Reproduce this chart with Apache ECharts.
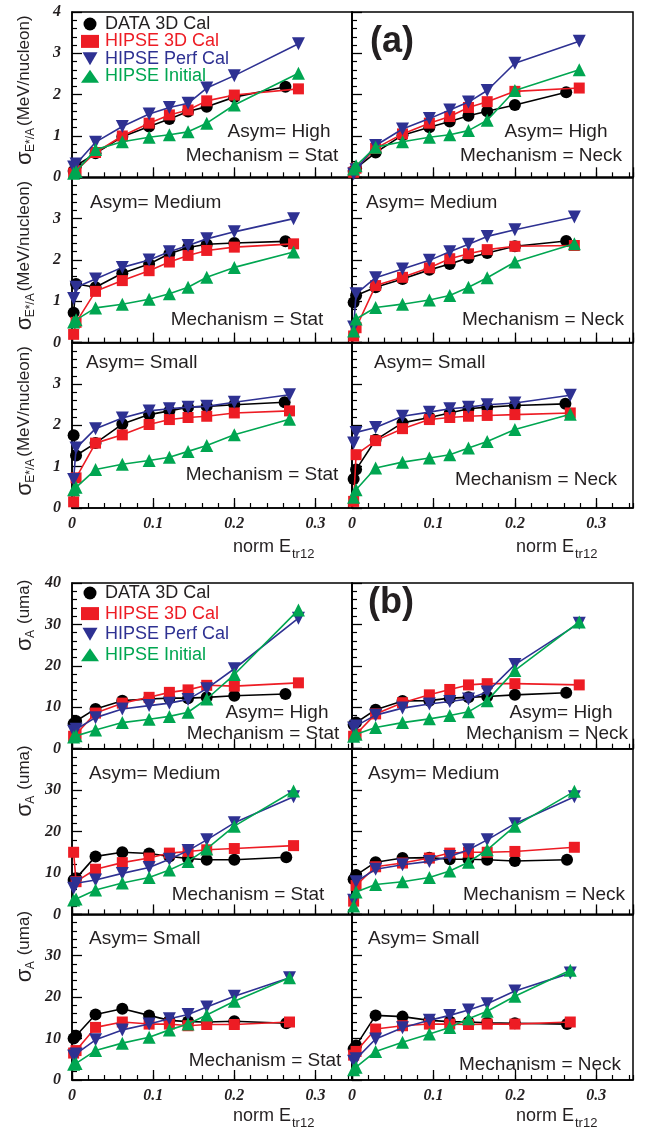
<!DOCTYPE html>
<html><head><meta charset="utf-8">
<script src="https://cdn.jsdelivr.net/npm/echarts@6/dist/echarts.min.js"></script>
<style>html,body{margin:0;padding:0;background:#fff}#c{width:651px;height:1134px}</style>
</head><body><div id="c"></div><script>
// ---------------- DATA ----------------
const SERIES_NAMES = ['DATA 3D Cal', 'HIPSE 3D Cal', 'HIPSE Perf Cal', 'HIPSE Initial'];
const ASYM_LABELS = ['High', 'Medium', 'Small', 'High', 'Medium', 'Small'];
const MECH_LABELS = ['Stat', 'Neck'];
const X_NEAR = [0.002, 0.005];
const X_MID = [0.029, 0.062, 0.095, 0.12, 0.143, 0.166, 0.2];
const X_LAST_DATA = [0.263, 0.263, 0.262, 0.263, 0.264, 0.264];
const X_LAST_SIM = [0.279, 0.273, 0.268, 0.279, 0.273, 0.268];
const X_TICK_LABELS = ['0', '0.1', '0.2', '0.3'];

// (a) sigma E*/A  [near0, near0, 7 mid points, last]
const A_HIGH_STAT_DATA = [0.15, 0.28, 0.58, 0.98, 1.23, 1.41, 1.59, 1.71, 1.94, 2.19];
const A_HIGH_STAT_3D   = [0.10, 0.16, 0.60, 1.00, 1.31, 1.51, 1.63, 1.85, 1.99, 2.14];
const A_HIGH_STAT_PERF = [0.25, 0.32, 0.85, 1.23, 1.53, 1.69, 1.79, 2.16, 2.46, 3.23];
const A_HIGH_STAT_INIT = [0.10, 0.14, 0.67, 0.86, 0.97, 1.03, 1.10, 1.31, 1.75, 2.52];

const A_HIGH_NECK_DATA = [0.15, 0.22, 0.60, 1.02, 1.21, 1.35, 1.49, 1.60, 1.75, 2.06];
const A_HIGH_NECK_3D   = [0.12, 0.22, 0.70, 1.05, 1.31, 1.47, 1.69, 1.83, 2.08, 2.16];
const A_HIGH_NECK_PERF = [0.08, 0.18, 0.77, 1.17, 1.42, 1.63, 1.82, 2.10, 2.76, 3.29];
const A_HIGH_NECK_INIT = [0.20, 0.28, 0.73, 0.86, 0.97, 1.03, 1.13, 1.38, 2.10, 2.60];

const A_MED_STAT_DATA = [0.72, 1.42, 1.34, 1.68, 1.90, 2.15, 2.30, 2.38, 2.41, 2.45];
const A_MED_STAT_3D   = [0.20, 0.49, 1.24, 1.50, 1.74, 1.95, 2.11, 2.23, 2.31, 2.39];
const A_MED_STAT_PERF = [1.07, 1.34, 1.54, 1.82, 2.00, 2.20, 2.35, 2.51, 2.68, 3.00];
const A_MED_STAT_INIT = [0.50, 0.55, 0.84, 0.93, 1.05, 1.18, 1.34, 1.58, 1.82, 2.19];

const A_MED_NECK_DATA = [0.97, 1.14, 1.34, 1.54, 1.76, 1.90, 2.05, 2.17, 2.33, 2.46];
const A_MED_NECK_3D   = [0.16, 0.36, 1.38, 1.58, 1.81, 2.03, 2.15, 2.25, 2.33, 2.35];
const A_MED_NECK_PERF = [0.38, 1.18, 1.57, 1.78, 1.99, 2.20, 2.38, 2.57, 2.73, 3.04];
const A_MED_NECK_INIT = [0.28, 0.57, 0.85, 0.93, 1.03, 1.14, 1.34, 1.57, 1.95, 2.39];

const A_SMALL_STAT_DATA = [1.76, 1.27, 1.57, 2.03, 2.26, 2.35, 2.44, 2.46, 2.50, 2.56];
const A_SMALL_STAT_3D   = [0.15, 0.73, 1.57, 1.77, 2.02, 2.14, 2.19, 2.22, 2.30, 2.35];
const A_SMALL_STAT_PERF = [0.69, 1.45, 1.92, 2.18, 2.35, 2.40, 2.44, 2.46, 2.56, 2.74];
const A_SMALL_STAT_INIT = [0.44, 0.50, 0.93, 1.06, 1.15, 1.23, 1.37, 1.51, 1.77, 2.15];

const A_SMALL_NECK_DATA = [0.70, 0.93, 1.65, 2.06, 2.19, 2.30, 2.40, 2.44, 2.48, 2.52];
const A_SMALL_NECK_3D   = [0.16, 1.29, 1.63, 1.92, 2.14, 2.19, 2.22, 2.24, 2.26, 2.30];
const A_SMALL_NECK_PERF = [1.57, 1.83, 1.95, 2.22, 2.32, 2.40, 2.44, 2.50, 2.54, 2.73];
const A_SMALL_NECK_INIT = [0.26, 0.44, 0.97, 1.11, 1.21, 1.29, 1.45, 1.61, 1.90, 2.27];

// (b) sigma A (uma)
const B_HIGH_STAT_DATA = [6.0, 6.7, 9.6, 11.6, 12.0, 12.2, 12.2, 12.4, 12.8, 13.2];
const B_HIGH_STAT_3D   = [3.0, 3.5, 8.6, 11.0, 12.4, 13.6, 14.2, 15.3, 15.1, 15.9];
const B_HIGH_STAT_PERF = [4.2, 4.7, 7.5, 9.6, 10.4, 11.0, 11.9, 14.5, 19.3, 31.5];
const B_HIGH_STAT_INIT = [2.8, 3.1, 4.5, 6.3, 7.1, 7.8, 8.8, 12.0, 17.9, 33.5];

const B_HIGH_NECK_DATA = [5.8, 6.3, 9.4, 11.5, 11.6, 12.2, 12.4, 12.6, 13.0, 13.5];
const B_HIGH_NECK_3D   = [3.0, 3.5, 8.4, 11.1, 13.0, 14.3, 15.4, 15.7, 15.7, 15.4];
const B_HIGH_NECK_PERF = [5.0, 5.5, 8.1, 9.8, 10.8, 11.4, 12.0, 13.7, 20.3, 30.3];
const B_HIGH_NECK_INIT = [3.0, 3.5, 5.1, 6.3, 7.2, 8.0, 8.9, 11.6, 18.9, 30.6];

const B_MED_STAT_DATA = [8.3, 8.7, 14.0, 15.0, 14.7, 14.0, 13.5, 13.2, 13.2, 13.8];
const B_MED_STAT_3D   = [15.0, 7.9, 10.9, 12.5, 13.6, 14.8, 15.2, 15.6, 15.9, 16.6];
const B_MED_STAT_PERF = [6.3, 7.5, 8.3, 9.9, 11.3, 13.3, 15.4, 18.0, 22.1, 28.4];
const B_MED_STAT_INIT = [3.5, 3.7, 5.9, 7.6, 8.9, 10.7, 12.8, 15.8, 21.3, 29.8];

const B_MED_NECK_DATA = [8.5, 9.5, 12.6, 13.6, 13.7, 13.3, 13.3, 13.2, 12.9, 13.2];
const B_MED_NECK_3D   = [3.2, 7.0, 11.5, 12.4, 13.6, 14.8, 15.0, 15.0, 15.2, 16.2];
const B_MED_NECK_PERF = [3.4, 7.9, 10.9, 12.0, 12.8, 14.0, 15.6, 18.0, 21.9, 28.4];
const B_MED_NECK_INIT = [2.0, 5.4, 7.2, 7.9, 8.9, 10.5, 12.6, 15.6, 21.3, 29.7];

const B_SMALL_STAT_DATA = [10.0, 10.7, 15.8, 17.2, 15.6, 14.4, 14.1, 14.0, 14.2, 13.7];
const B_SMALL_STAT_3D   = [6.5, 7.1, 12.7, 14.0, 13.5, 13.5, 13.1, 13.4, 13.4, 14.0];
const B_SMALL_STAT_PERF = [5.8, 6.3, 9.7, 12.1, 13.5, 14.8, 15.8, 17.6, 20.2, 24.7];
const B_SMALL_STAT_INIT = [3.8, 4.0, 7.1, 8.9, 10.3, 12.1, 13.5, 15.7, 19.0, 24.7];

const B_SMALL_NECK_DATA = [7.5, 8.3, 15.6, 15.3, 14.4, 14.1, 14.0, 13.8, 13.7, 13.5];
const B_SMALL_NECK_3D   = [6.0, 6.9, 12.3, 13.1, 13.5, 13.5, 13.4, 13.5, 13.5, 14.0];
const B_SMALL_NECK_PERF = [4.5, 5.1, 9.9, 12.6, 14.4, 15.6, 16.9, 18.4, 21.5, 25.8];
const B_SMALL_NECK_INIT = [2.5, 3.1, 6.9, 9.1, 11.1, 12.7, 14.8, 16.6, 20.2, 26.5];

const PANELS = [
  [A_HIGH_STAT_DATA, A_HIGH_STAT_3D, A_HIGH_STAT_PERF, A_HIGH_STAT_INIT],
  [A_HIGH_NECK_DATA, A_HIGH_NECK_3D, A_HIGH_NECK_PERF, A_HIGH_NECK_INIT],
  [A_MED_STAT_DATA, A_MED_STAT_3D, A_MED_STAT_PERF, A_MED_STAT_INIT],
  [A_MED_NECK_DATA, A_MED_NECK_3D, A_MED_NECK_PERF, A_MED_NECK_INIT],
  [A_SMALL_STAT_DATA, A_SMALL_STAT_3D, A_SMALL_STAT_PERF, A_SMALL_STAT_INIT],
  [A_SMALL_NECK_DATA, A_SMALL_NECK_3D, A_SMALL_NECK_PERF, A_SMALL_NECK_INIT],
  [B_HIGH_STAT_DATA, B_HIGH_STAT_3D, B_HIGH_STAT_PERF, B_HIGH_STAT_INIT],
  [B_HIGH_NECK_DATA, B_HIGH_NECK_3D, B_HIGH_NECK_PERF, B_HIGH_NECK_INIT],
  [B_MED_STAT_DATA, B_MED_STAT_3D, B_MED_STAT_PERF, B_MED_STAT_INIT],
  [B_MED_NECK_DATA, B_MED_NECK_3D, B_MED_NECK_PERF, B_MED_NECK_INIT],
  [B_SMALL_STAT_DATA, B_SMALL_STAT_3D, B_SMALL_STAT_PERF, B_SMALL_STAT_INIT],
  [B_SMALL_NECK_DATA, B_SMALL_NECK_3D, B_SMALL_NECK_PERF, B_SMALL_NECK_INIT]
];

// ---------------- LAYOUT / STYLE ----------------
const COL_LEFT = [72, 352], COL_W = [280, 281];
const ROW_TOP = [12, 177.3, 342.7, 583, 748.7, 914.3];
const ROW_H = [165.3, 165.3, 165.3, 165.7, 165.7, 165.7];
const COLORS = ['#000000', '#ed1c24', '#2e3192', '#00a651'];
const SYMBOLS = ['circle', 'rect', 'triangle', 'triangle'];
const SYM_ROT = [0, 0, 180, 0];
const SYM_SIZE = [12, 11, 13, 13];
const TXT = '#231f20';
const SANS = '"Liberation Sans", Arial, Helvetica, sans-serif';
const SERIF = '"Liberation Serif", "Times New Roman", serif';
const ASYM_POS = [
  [[279, 132, 'center'], [556, 132, 'center']],
  [[90, 203, 'left'], [366, 203, 'left']],
  [[86, 363, 'left'], [374, 363, 'left']],
  [[277, 713, 'center'], [561, 713, 'center']],
  [[89, 774, 'left'], [368, 774, 'left']],
  [[89, 939, 'left'], [368, 939, 'left']]
];
const MECH_POS = [
  [[262, 156], [541, 156]],
  [[247, 320], [543, 320]],
  [[262, 475], [536, 480]],
  [[263, 734], [547, 734]],
  [[248, 895], [544, 895]],
  [[265, 1061], [540, 1065]]
];

const grids = [], xAxes = [], yAxes = [], series = [], graphics = [];
for (let r = 0; r < 6; r++) {
  const isA = r < 3, isTop = (r === 0 || r === 3), isBottom = (r === 2 || r === 5);
  for (let c = 0; c < 2; c++) {
    const idx = r * 2 + c;
    grids.push({left: COL_LEFT[c], top: ROW_TOP[r], width: COL_W[c], height: ROW_H[r],
      show: true, borderColor: '#000', borderWidth: 1.5, backgroundColor: 'transparent'});
    xAxes.push({type: 'value', gridIndex: idx, position: 'bottom', min: 0, max: 0.345, interval: 0.1,
      axisLine: {show: true, onZero: false, lineStyle: {color: '#000', width: 1.5}},
      axisTick: {show: true, inside: true, length: 10, lineStyle: {color: '#000', width: 1.3}},
      axisLabel: {show: isBottom, showMaxLabel: false, margin: 8,
        formatter: v => X_TICK_LABELS[Math.round(v * 10)] || '',
        fontFamily: SERIF, fontStyle: 'italic', fontWeight: 'bold', fontSize: 16, color: TXT},
      splitLine: {show: false}});
    xAxes.push({type: 'value', gridIndex: idx, position: 'bottom', offset: 0, min: 0, max: 0.345, interval: 0.02,
      axisLine: {show: false}, axisLabel: {show: false}, splitLine: {show: false},
      axisTick: {show: true, inside: true, length: 5, lineStyle: {color: '#000', width: 1.2}}});
    yAxes.push({type: 'value', gridIndex: idx, min: 0, max: isA ? 4 : 40, interval: isA ? 1 : 10,
      axisLine: {show: true, onZero: false, lineStyle: {color: '#000', width: 1.5}},
      axisTick: {show: true, inside: true, length: 10, lineStyle: {color: '#000', width: 1.3}},
      minorTick: {show: true, splitNumber: 5, length: 5, lineStyle: {color: '#000', width: 1.2}},
      axisLabel: {show: c === 0, showMaxLabel: isTop, showMinLabel: true, margin: 11,
        fontFamily: SERIF, fontStyle: 'italic', fontWeight: 'bold', fontSize: 16, color: TXT},
      splitLine: {show: false}, minorSplitLine: {show: false}});
    const xs = X_NEAR.concat(X_MID);
    PANELS[idx].forEach((vals, s) => {
      const xl = s === 0 ? X_LAST_DATA[r] : X_LAST_SIM[r];
      const allX = xs.concat([xl]);
      series.push({type: 'line', name: SERIES_NAMES[s], xAxisIndex: idx * 2, yAxisIndex: idx,
        data: vals.map((v, i) => [allX[i], v]),
        symbol: SYMBOLS[s], symbolRotate: SYM_ROT[s], symbolSize: SYM_SIZE[s], showAllSymbol: true,
        lineStyle: {color: COLORS[s], width: 1.6}, itemStyle: {color: COLORS[s], borderWidth: 0},
        emphasis: {disabled: true}, animation: false, z: 2 + s});
    });
    const ap = ASYM_POS[r][c];
    graphics.push({type: 'text', z: 50, style: {text: 'Asym= ' + ASYM_LABELS[r], x: ap[0], y: ap[1],
      align: ap[2], verticalAlign: 'middle', fontSize: 19, fontFamily: SANS, fill: TXT}});
    const mp = MECH_POS[r][c];
    graphics.push({type: 'text', z: 50, style: {text: 'Mechanism = ' + MECH_LABELS[c], x: mp[0], y: mp[1],
      align: 'center', verticalAlign: 'middle', fontSize: 19, fontFamily: SANS, fill: TXT}});
    if (isBottom) {
      const xt = COL_LEFT[c] + (c === 0 ? 219 : 222);
      const yt = r === 2 ? 547 : 1116;
      graphics.push({type: 'text', z: 50, style: {text: 'norm E', x: xt, y: yt, align: 'right', verticalAlign: 'middle',
        fontSize: 18, fontFamily: SANS, fill: TXT}});
      graphics.push({type: 'text', z: 50, style: {text: 'tr12', x: xt + 1, y: yt + 7, align: 'left', verticalAlign: 'middle',
        fontSize: 13, fontFamily: SANS, fill: TXT}});
    }
  }
  if (isA) {
    graphics.push({type: 'group', x: 24, y: ROW_TOP[r] + 153, rotation: Math.PI / 2, z: 50, children: [
      {type: 'text', style: {text: 'σ', x: 0, y: 1, align: 'left', verticalAlign: 'middle', fontSize: 22, fontFamily: SANS, fill: TXT}},
      {type: 'text', style: {text: 'E*/A', x: 13, y: 7, align: 'left', verticalAlign: 'middle', fontSize: 12, fontFamily: SANS, fill: TXT}},
      {type: 'text', style: {text: '(MeV/nucleon)', x: 39, y: 0, align: 'left', verticalAlign: 'middle', fontSize: 17, fontFamily: SANS, fill: TXT}}
    ]});
  } else {
    graphics.push({type: 'group', x: 24, y: ROW_TOP[r] + 68, rotation: Math.PI / 2, z: 50, children: [
      {type: 'text', style: {text: 'σ', x: 0, y: 1, align: 'left', verticalAlign: 'middle', fontSize: 22, fontFamily: SANS, fill: TXT}},
      {type: 'text', style: {text: 'A', x: 13, y: 7, align: 'left', verticalAlign: 'middle', fontSize: 12, fontFamily: SANS, fill: TXT}},
      {type: 'text', style: {text: '(uma)', x: 27, y: 0, align: 'left', verticalAlign: 'middle', fontSize: 17, fontFamily: SANS, fill: TXT}}
    ]});
  }
}
graphics.push({type: 'text', z: 50, style: {text: '(a)', x: 392, y: 42, align: 'center', verticalAlign: 'middle',
  fontSize: 36, fontWeight: 'bold', fontFamily: SANS, fill: TXT}});
graphics.push({type: 'text', z: 50, style: {text: '(b)', x: 391, y: 603, align: 'center', verticalAlign: 'middle',
  fontSize: 36, fontWeight: 'bold', fontFamily: SANS, fill: TXT}});

const INV_TRI = 'path://M0,0L20,0L10,17.3Z';
const legendData = [
  {name: SERIES_NAMES[0], icon: 'circle', textStyle: {color: TXT}},
  {name: SERIES_NAMES[1], icon: 'rect', textStyle: {color: COLORS[1]}},
  {name: SERIES_NAMES[2], icon: INV_TRI, textStyle: {color: COLORS[2]}},
  {name: SERIES_NAMES[3], icon: 'triangle', textStyle: {color: COLORS[3]}}
];
function mkLegend(top, gap) {
  return {orient: 'vertical', left: 81, top: top, itemWidth: 18, itemHeight: 13, itemGap: gap,
    selectedMode: false, data: legendData, padding: 0,
    textStyle: {fontSize: 18, fontFamily: SANS, padding: [0, 0, 0, 1]}};
}

const chart = echarts.init(document.getElementById('c'), null, {renderer: 'canvas'});
chart.setOption({
  animation: false,
  backgroundColor: '#ffffff',
  grid: grids, xAxis: xAxes, yAxis: yAxes, series: series,
  legend: [mkLegend(15, -0.6), mkLegend(584, 2.6)],
  graphic: graphics
});
</script></body></html>
